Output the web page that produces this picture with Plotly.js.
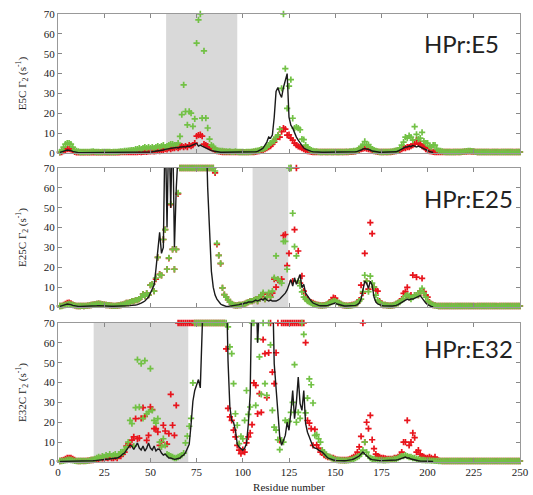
<!DOCTYPE html>
<html>
<head>
<meta charset="utf-8">
<script src="https://cdn.plot.ly/plotly-3.0.1.min.js"></script>
<style>html,body{margin:0;padding:0;background:#fff;}#chart{width:533px;height:495px;}</style>
</head>
<body>
<div id="chart"></div>
<script>
// Residue numbers (x categories)
const residues = Array.from({length: 250}, (_, i) => i + 1);
const xTickVals = [0, 25, 50, 75, 100, 125, 150, 175, 200, 225, 250];
const yTickVals = [0, 10, 20, 30, 40, 50, 60, 70];
const panelLabels = ["HPr:E5", "HPr:E25", "HPr:E32"];
const yTitles = ["E5C \u0393<sub>2</sub> (s<sup>-1</sup>)", "E25C \u0393<sub>2</sub> (s<sup>-1</sup>)", "E32C \u0393<sub>2</sub> (s<sup>-1</sup>)"];
const shadedE5 = [58.5, 97];
const shadedE25 = [105.3, 124.6];
const shadedE32 = [19.3, 70.5];

// ---------- Panel 1: E5C ----------
const greenE5 = [
0.5,1.5,3,4.5,5,5,4.5,3,1.5,1,
0.8,0.5,0.5,0.5,0.6,0.5,0.5,0.7,0.8,0.6,
0.5,0.5,0.4,0.5,0.6,0.5,0.5,0.5,0.4,0.5,
0.5,0.6,0.7,0.8,0.8,1,1,1.2,1.3,1.5,
1.5,2,2,2.5,2,2.5,3,2.5,3,2.5,
3,2.5,3,3.5,3,3.5,4,3,3.5,4,
4.5,4.5,4,4,5,8.4,19.3,34.3,20.9,14.2,
20.9,20.1,13.4,17.2,55.3,67,70,17.6,51.4,17.6,
12.6,7,4,3.3,2,1.5,1.2,1,1,0.8,
0.8,0.7,0.8,0.6,0.6,0.8,0.6,0.5,0.5,0.5,
0.4,0.5,0.5,0.6,0.7,0.8,1,1.2,1.5,2,
2,2.5,3,4,5,5.8,6,8,9,12,
32.5,70,42.5,22.5,33.7,37,17.5,12.5,13,12.5,
11.7,7,6.7,4,3,2,1.5,1,0.8,0.8,
0.6,0.5,0.5,0.6,0.5,0.5,0.6,0.5,0.5,0.6,
0.5,0.5,0.6,0.5,0.6,0.7,0.6,0.8,0.8,1,
1,1.5,2,3.3,4,5.8,4,4.2,3,2,
1.5,1,0.8,0.6,0.5,0.5,0.6,0.5,0.6,0.7,
0.8,1,1.2,1.5,2.5,4,5.5,8,7.5,8.7,
8,6.5,13.3,9.4,7,7.5,10.4,6,5,5,
3.5,3,4,4,2,1.2,1,0.8,0.6,0.5,
0.5,0.5,0.4,0.5,0.5,0.6,0.5,0.6,0.7,0.8,
0.9,1,1,0.9,0.8,0.6,0.5,0.5,0.5,0.5,
0.5,0.5,0.5,0.4,0.5,0.5,0.5,0.5,0.4,0.5,
0.5,0.5,0.5,0.5,0.5,0.5,0.4,0.5,0.5,0.5
];
const redE5 = [
0.3,0.5,1,1.5,2,2,1.8,1.2,0.6,0.3,
0.3,0.3,0.3,0.3,0.3,0.3,0.3,0.3,0.3,0.3,
0.3,0.3,0.3,0.3,0.3,0.3,0.3,0.3,0.3,0.3,
0.3,0.3,0.3,0.4,0.4,0.4,0.4,0.5,0.5,0.5,
0.4,0.5,0.5,0.6,0.5,0.6,0.7,0.6,0.8,0.8,
1,0.8,1,1.2,1,1.3,1.5,2,1.8,2.5,
2,2.5,2.5,3,2.5,3,3.5,3,3.5,3,
4,3.5,4,5,8.5,9,9.2,8.5,4.5,4,
3.5,3,2.5,2,1.5,1,0.8,0.6,0.5,0.5,
0.4,0.4,0.4,0.4,0.4,0.4,0.4,0.4,0.4,0.4,
0.4,0.4,0.4,0.4,0.4,0.5,0.6,0.8,1,1.5,
1.5,2,2.5,3,3.5,4.5,5.5,7,8.7,8,
10.8,12.5,12,9,9.2,7.5,6.5,5,4,3.3,
3,2.5,2,1.5,1,0.8,0.6,0.5,0.5,0.5,
0.5,0.5,0.5,0.5,0.5,0.5,0.5,0.5,0.5,0.5,
0.5,0.5,0.5,0.5,0.5,0.5,0.5,0.6,0.6,0.7,
0.8,1.2,1.5,2,2.2,2.5,2.2,2,1.8,1.5,
1,0.8,0.6,0.5,0.5,0.5,0.5,0.5,0.5,0.5,
0.6,0.8,1,1.2,1.5,2,2.5,2.5,3,3,
3.5,4,4.5,6.5,5,4.5,3.5,3,2,1.5,
1,0.8,0.6,0.5,0.5,0.5,0.5,0.5,0.5,0.5,
0.5,0.5,0.5,0.5,0.5,0.5,0.5,0.5,0.6,0.7,
0.7,0.8,0.8,0.7,0.7,0.6,0.5,0.5,0.5,0.5,
0.5,0.5,0.5,0.5,0.5,0.5,0.5,0.5,0.5,0.5,
0.5,0.5,0.5,0.5,0.5,0.5,0.5,0.5,0.5,0.5
];
const lineE5 = [
0.3,0.5,0.8,1.2,1.5,1.5,1.2,0.8,0.5,0.3,
0.2,0.2,0.2,0.2,0.2,0.2,0.2,0.2,0.2,0.2,
0.2,0.2,0.2,0.2,0.2,0.2,0.2,0.2,0.2,0.2,
0.2,0.2,0.3,0.3,0.3,0.3,0.3,0.4,0.4,0.4,
0.4,0.4,0.5,0.5,0.5,0.5,0.5,0.5,0.5,0.5,
0.6,0.7,0.8,1,1.2,1.3,1.5,1.8,2,2.2,
2.3,2.5,2.5,2.8,2.5,3,3,3.2,3,3.5,
3.3,3.8,4,4.5,4.9,3.5,4,3.5,3,2.5,
2,1.5,1.2,1,0.8,0.6,0.5,0.4,0.4,0.4,
0.3,0.3,0.3,0.3,0.3,0.3,0.3,0.3,0.3,0.3,
0.3,0.3,0.3,0.3,0.3,0.5,0.6,0.8,1.2,1.8,
2.5,4,5.5,8,7.5,9,18,31,33,30,
28,33,37,40,18,14,12.5,10,8,6.5,
5,3.5,2.5,2,1.5,1,0.8,0.6,0.5,0.5,
0.4,0.4,0.4,0.4,0.4,0.4,0.4,0.4,0.4,0.4,
0.4,0.4,0.4,0.4,0.4,0.4,0.4,0.4,0.4,0.4,
0.6,0.8,1,1.5,2,2.2,2,1.8,1.5,1,
0.8,0.6,0.4,0.4,0.4,0.4,0.4,0.4,0.4,0.4,
0.4,0.4,0.6,1,1.5,2,2.5,3,3,3.5,
3.2,3.8,3.5,3,3.5,3,2.5,2,1.5,1,
0.8,0.5,0.3
];

// ---------- Panel 2: E25C ----------
const greenE25 = [
0.5,0.5,0.8,1,1.3,1.5,1.3,1,0.8,0.6,
0.5,0.5,0.6,0.5,0.6,0.7,0.8,1,1.2,1.3,
1.5,1.7,1.5,1.3,1.2,1,0.9,0.8,0.7,0.6,
0.6,0.7,0.8,1,1.2,1.5,2,2,2.5,3,
3,3.5,3.5,4,5,6.5,5.5,7,6,11,
11.5,8,14.6,25,16.3,16,34,39,19,24.7,
52,29,19,29,57.4,70,70,70,70,70,
70,70,70,70,70,70,70,70,70,70,
70,70,70,70,68.5,32,26,22,9.6,6.2,
5,3.7,2.5,1.5,1,0.8,0.8,1,1,1.2,
1.5,2,2.5,3,3,3.5,4,3,5,6,
7.2,4,5,7.2,5,8,14.8,25.7,14,13.1,
12,33,33,19,70,70,47.2,30.4,25.7,13,
10.7,7.6,5,4,3,2.5,2,1.5,1.2,1,
0.8,0.8,0.7,0.8,1,1.5,2,2.5,3,3,
2.5,2,1.5,1,0.8,0.7,0.6,0.7,0.8,1,
1.5,2,3,4,7.7,16,13,7.7,15.5,12,
10,6,3.5,2.5,1.5,1,1,0.8,0.7,0.7,
0.8,1,1.5,2,2.5,3.5,4,5.6,6,5.6,
4,5,6,6,6,8,9.4,7,5,3,
2,1.5,1,0.8,0.6,0.5,0.5,0.5,0.5,0.5,
0.5,0.5,0.5,0.4,0.5,0.5,0.5,0.5,0.5,0.5,
0.5,0.5,0.5,0.5,0.5,0.4,0.5,0.5,0.5,0.5,
0.5,0.5,0.5,0.5,0.5,0.5,0.5,0.4,0.5,0.5,
0.5,0.5,0.5,0.5,0.5,0.5,0.5,0.5,0.5,0.5
];
const redE25 = [
0.5,0.6,1,1.5,2,2.2,1.8,1.2,0.8,0.5,
0.5,0.5,0.6,0.5,0.6,0.7,0.8,1,1.2,1.3,
1.5,1.7,1.5,1.3,1.2,1,0.9,0.8,0.7,0.6,
0.6,0.7,0.8,1,1.2,1.5,2,2,2.5,3,
3,3.5,3.5,4,5,6.5,5.5,7,6,11,
11.5,8,14,25,16.5,16,34,39,19,24.5,
51.5,29,19,29,57,70,70,70,70,70,
70,70,70,70,70,70,70,70,70,70,
70,70,70,70,67.5,31.5,26,21.8,9.6,6.2,
5,3.7,2.5,1.5,1,0.8,0.8,1,1,1.2,
1.5,2,2.5,3,3,3.5,4,3,5,5.5,
6.5,4,5,6.5,5,7,14,10,13.5,13,
14,36,36.5,20.8,27,70,13,39,70,28.2,
12,15.6,8,5,3.5,3,2.5,2,1.5,1.2,
1,0.8,0.8,0.9,1,1.5,2.5,3.5,4.7,4.5,
3,2,1.5,1,0.8,0.7,0.7,0.8,1,1.2,
1.5,2,3.5,11,7,27,13,9,42.5,37,
10,8.5,8,3,1.5,1,1,0.8,0.7,0.7,
0.8,1,1.5,2,3,4,6.9,7.7,9.9,5,
6,16.1,6,15,6,8,14.4,7.7,6,5,
2.5,1.5,1,0.8,0.6,0.5,0.5,0.5,0.5,0.5,
0.5,0.5,0.5,0.5,0.5,0.5,0.5,0.5,0.5,0.5,
0.5,0.5,0.5,0.5,0.5,0.5,0.5,0.5,0.5,0.5,
0.5,0.5,0.5,0.5,0.5,0.5,0.5,0.5,0.5,0.5,
0.5,0.5,0.5,0.5,0.5,0.5,0.5,0.5,0.5,0.5
];
const lineE25 = [
0.3,0.5,0.8,1.2,1.5,1.5,1.2,0.8,0.5,0.4,
0.3,0.3,0.3,0.3,0.3,0.4,0.4,0.5,0.5,0.6,
0.6,0.7,0.6,0.6,0.5,0.5,0.4,0.4,0.4,0.4,
0.4,0.4,0.5,0.5,0.5,0.6,0.6,0.6,0.7,0.8,
0.8,1,1.2,1.5,2,2.5,3,4,5,7,
9,11,19,30,37.6,27,30,95,40,95,
50,95,30,60,95,95,95,95,95,95,
95,95,95,95,95,95,95,95,95,95,
60,35,18,10,6,4,2.5,1.5,1,0.5,
0.3,0.3,0.4,0.5,0.6,0.8,1,1.2,1.5,1.5,
2,2,2.5,2.5,2.5,3,3.5,3,3.5,4,
3.5,4.5,3.5,3,3.5,3,3,3,3.5,4,
5,6,7,8.6,11,13.8,10.5,14.7,11.4,14,
16.4,9.7,11.4,7,5.5,4.7,3,2,1.5,1,
0.8,0.6,0.5,0.5,0.6,0.8,1.2,1.5,2,2,
1.5,1.2,0.8,0.6,0.5,0.5,0.5,0.5,0.5,0.6,
0.8,1.2,2,4,8,13,12,9.4,13,11,
5,2.5,1.5,1,0.8,0.6,0.5,0.5,0.5,0.5,
0.5,0.6,0.8,1.2,1.8,2.5,3,3.5,4,3.5,
4,4,4.5,5,5.5,5.7,4.5,3,2,1.2,
0.6,0.3,0.1
];

// ---------- Panel 3: E32C ----------
const greenE32 = [
0.5,0.5,0.6,0.8,1,1.2,1,0.8,0.6,0.5,
0.5,0.5,0.5,0.6,0.5,0.6,0.8,1,1.2,1.5,
2,2.5,2,3,2.5,3.5,3,4,3,3.5,
4,3,4,5,4.5,6.2,7.6,10,21,19.3,
8,27.4,51.5,27.7,49.5,22,51,24.3,25.2,47,
26,21,19.6,21.8,10,7.6,11.7,8.4,4,3.5,
3,2.5,2,2,2.5,3,3.5,4.5,9.6,13,
18,22,39.8,70,70,70,70,70,70,70,
70,70,70,70,70,70,70,70,70,70,
70,68,58,54.6,39.5,24.3,18.5,9.2,12.9,11.7,
21,36,24,27.7,70,70,28.5,62,52.9,34,
70,39.5,33.6,70,59,26,17.6,16,11.2,6.2,
11,10,21,20,20.5,25,30,49,20,25,
22,70,64.3,24.7,32.2,41.9,38.9,29.7,13.4,13.8,
11.7,10,5.9,5,3.5,3,2.5,2,1.5,1.2,
1,1,0.8,0.8,0.7,0.8,0.8,1,1.2,1.5,
2,2.5,3,4,6,10,5,3,2,1.5,
1.5,1.2,1,1,1,0.8,0.8,1,1,1.2,
1.2,1.5,1.5,2,2.5,3,3,3.5,3,2.5,
2.5,2,2,1.5,1.5,1.2,1,1,0.8,0.8,
0.8,0.7,0.7,0.6,0.6,0.5,0.5,0.5,0.5,0.5,
0.5,0.5,0.5,0.5,0.5,0.5,0.5,0.5,0.5,0.5,
0.5,0.5,0.5,0.5,0.5,0.5,0.5,0.5,0.5,0.5,
0.5,0.5,0.5,0.5,0.5,0.5,0.5,0.5,0.5,0.5,
0.5,0.5,0.5,0.5,0.5,0.5,0.5,0.5,0.5,0.5
];
const redE32 = [
0.5,0.8,1,1.5,2,2,2,1.5,1,0.6,
0.5,0.5,0.6,0.5,0.6,0.7,0.8,1,1,1.2,
1.5,1.5,2,1.8,2,2.2,2,2.5,2,2,
2.5,2,3,3,4,5,8,9,8.5,11,
12.6,21.8,11.7,12,22,27.4,23,10.9,13.4,27.7,
26.4,16.8,16.8,15.1,8.4,10,18.5,15.6,9,14.3,
34,18.5,13.4,28.5,70,70,70,70,70,70,
70,70,70,70,70,70,70,70,70,70,
70,70,70,70,70,70,70,70,70,70,
57,27,22.7,21,16,12.6,8.4,6,4.2,6.2,
5,9.6,12.6,14.6,18.8,39.8,38.6,24.3,34.4,25,
61.6,54.6,32.4,55,70,45.3,39.5,55,70,10.9,
70,70,70,70,70,70,70,70,70,70,
70,70,70,60.1,20.9,19.6,16.8,8.4,16.4,8.6,
7,5,5,3.5,3,2.5,2.5,2,2,1.5,
1.2,1,1,1,1,1,1.2,1.5,2,2.5,
3,5,7.6,12.9,70,10,20,16.8,23.5,11.2,
6.7,4,3,2.5,2,2,1.8,1.5,1.5,1.5,
1.5,2,2,2.5,3,5,10,10,21,8.4,
10,14.6,12.3,5,5.9,4,3,2.5,2,2,
2.5,2,1.5,2.5,1,0.8,0.6,0.5,0.5,0.5,
0.5,0.5,0.5,0.5,0.5,0.5,0.5,0.5,0.5,0.5,
0.5,0.5,0.5,0.5,0.5,0.5,0.5,0.5,0.5,0.5,
0.5,0.5,0.5,0.5,0.5,0.5,0.5,0.5,0.5,0.5,
0.5,0.5,0.5,0.5,0.5,0.5,0.5,0.5,0.5,0.5
];
const lineE32 = [
0.3,0.3,0.4,0.5,0.6,0.6,0.5,0.4,0.3,0.3,
0.3,0.3,0.3,0.4,0.4,0.5,0.5,0.6,0.6,0.7,
0.8,0.8,1,1,1.2,1.2,1.3,1.5,1.5,1.8,
2,2,2.5,3,4,4.5,6,7,8.5,7.9,
6.3,8,9.6,7,6,8,5.5,7,9.6,7,
6,8,5.5,6.5,6.3,4.5,3.5,4,3,2,
2,1.5,1.3,1.5,1.8,2,3,3.5,4.7,6.5,
8.9,18.9,30.6,36,39,41.5,37.3,95,95,95,
95,95,95,95,95,95,95,95,95,95,
95,51,27.7,21,20,16,9,7.5,6.7,5.9,
7,9.2,19.3,34.4,95,95,95,60,95,95,
95,95,95,95,95,95,49.5,36,22.7,12.6,
8.4,11,13.4,20,16,25,36,21.8,30,42.8,
29.4,26,36,19.3,15,12.6,10,7.6,7,6.7,
6,5.5,5,4,3,2,1.7,1.2,1,0.8,
0.7,0.6,0.5,0.5,0.6,0.7,0.8,1,1.2,1.5,
2,2.5,3,4,5,4,3,2,1.5,1.2,
1,0.8,0.8,0.7,0.7,0.7,0.8,0.8,0.9,1,
1,1,1,1.2,1.5,2,2,2.5,2,2,
1.5,1.2,1,0.8,0.6,0.5,0.5,0.4,0.4,0.3,
0.3,0.3,0.3
];

const RED = '#e8141c', GREEN = '#72c145', BLACK = '#1a1a1a';
const panels = [
  {line: lineE5, red: redE5, green: greenE5, shade: shadedE5},
  {line: lineE25, red: redE25, green: greenE25, shade: shadedE25},
  {line: lineE32, red: redE32, green: greenE32, shade: shadedE32}
];
// domains in paper fraction (top, middle, bottom)
const domains = [[0.6909, 0.9717], [0.3798, 0.6606], [0.0667, 0.3475]];
const labelY = [0.913, 0.600, 0.295];
const SERIF = 'Liberation Serif';

const traces = [];
const layout = {
  width: 533, height: 495,
  margin: {l: 58, r: 13, t: 0, b: 0},
  paper_bgcolor: '#fff', plot_bgcolor: '#fff',
  showlegend: false,
  font: {family: SERIF, size: 11, color: '#222'},
  shapes: [], annotations: []
};

panels.forEach((p, i) => {
  const n = i === 0 ? '' : String(i + 1);
  const xa = 'x' + n, ya = 'y' + n;
  traces.push({x: residues, y: p.red, xaxis: xa, yaxis: ya, type: 'scatter', mode: 'markers',
    marker: {symbol: 'cross-thin', size: 4.5, color: RED, line: {width: 1.7, color: RED}}, cliponaxis: false, hoverinfo: 'x+y'});
  traces.push({x: residues, y: p.green, xaxis: xa, yaxis: ya, type: 'scatter', mode: 'markers',
    marker: {symbol: 'cross-thin', size: 4.5, color: GREEN, line: {width: 1.7, color: GREEN}}, cliponaxis: false, hoverinfo: 'x+y'});
  traces.push({x: residues.slice(0, p.line.length), y: p.line, xaxis: xa, yaxis: ya, type: 'scatter', mode: 'lines',
    line: {color: BLACK, width: 1.4}, hoverinfo: 'x+y'});

  const xaxis = {
    anchor: ya, domain: [0, 1], range: [0, 250], tickvals: xTickVals,
    ticks: 'inside', ticklen: 4, tickcolor: '#888', showline: true, linecolor: '#999', linewidth: 1,
    mirror: 'ticks', showgrid: false, zeroline: false, showticklabels: i === 2,
    tickfont: {family: SERIF, size: 11, color: '#222'}
  };
  if (i === 2) xaxis.title = {text: 'Residue number', font: {family: SERIF, size: 11, color: '#222'}, standoff: 6};
  layout['xaxis' + n] = xaxis;
  layout['yaxis' + n] = {
    anchor: xa, domain: domains[i], range: [0, 70], tickvals: yTickVals,
    ticks: 'inside', ticklen: 4, tickcolor: '#888', showline: true, linecolor: '#999', linewidth: 1,
    mirror: 'ticks', showgrid: false, zeroline: false,
    tickfont: {family: SERIF, size: 11, color: '#222'},
    title: {text: yTitles[i], font: {family: SERIF, size: 11, color: '#222'}}
  };
  layout.shapes.push({type: 'rect', xref: xa, yref: ya + ' domain', x0: p.shade[0], x1: p.shade[1], y0: 0, y1: 1,
    fillcolor: '#d9d9d9', line: {width: 0}, layer: 'below'});
  layout.annotations.push({xref: 'paper', yref: 'paper', x: 0.788, y: labelY[i], xanchor: 'left', yanchor: 'middle',
    text: panelLabels[i], showarrow: false, font: {family: 'Lato', size: 24, color: '#222'}});
});

Plotly.newPlot('chart', traces, layout, {displayModeBar: false, staticPlot: true});
</script>
</body>
</html>
